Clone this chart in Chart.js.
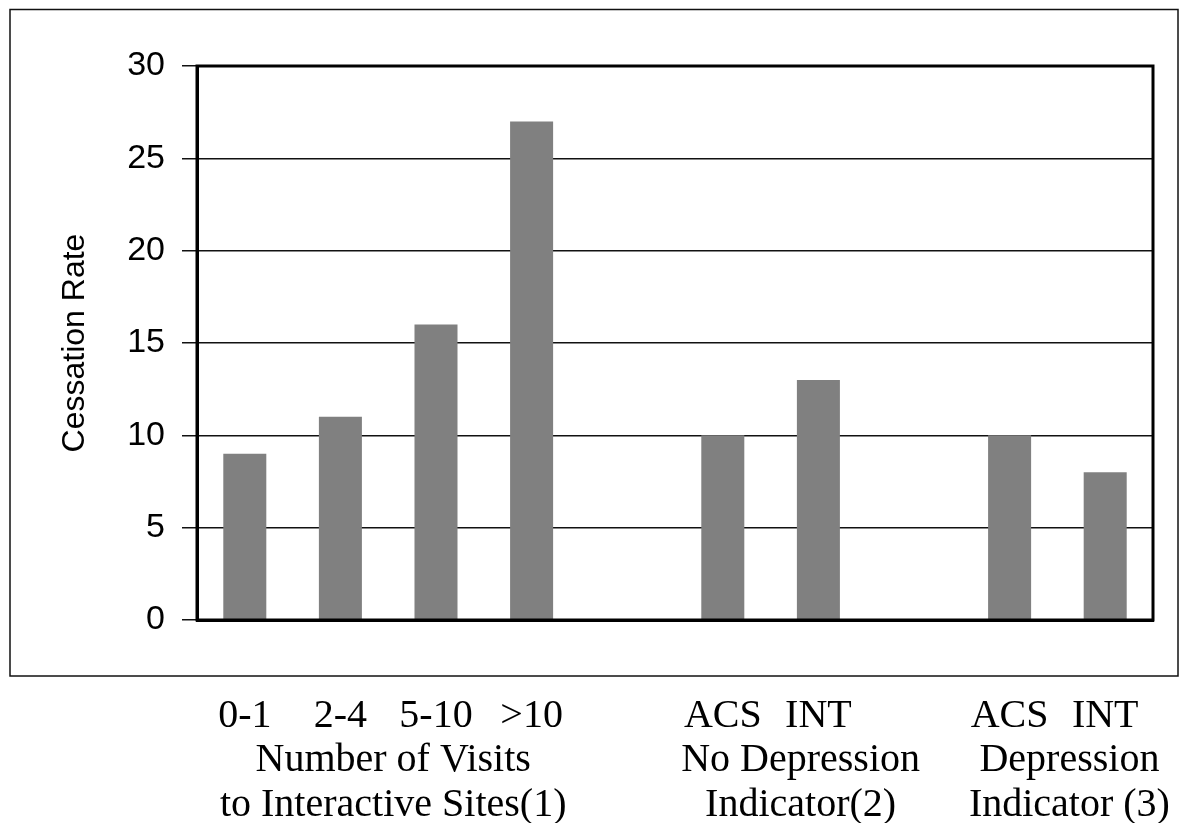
<!DOCTYPE html>
<html>
<head>
<meta charset="utf-8">
<script src="https://cdn.jsdelivr.net/npm/chart.js@4.4.1/dist/chart.umd.min.js"></script>
<style>
  html, body { margin: 0; padding: 0; background: #fff; }
  #wrap { width: 1180px; height: 823px; position: relative; }
</style>
</head>
<body>
<div id="wrap"><canvas id="grafico"></canvas></div>
<script>
// dados
const categorias = ["0-1", "2-4", "5-10", ">10", "", "ACS", "INT", "", "ACS", "INT"];
const taxas = [9, 11, 16, 27, null, 10, 13, null, 10, 8];
const ticksY = [0, 5, 10, 15, 20, 25, 30];
const grupos = [
    { de: 0, ate: 3, linhas: ["Number of Visits", "to Interactive Sites(1)"] },
    { de: 5, ate: 6, linhas: ["No Depression", "Indicator(2)"] },
    { de: 8, ate: 9, linhas: ["Depression", "Indicator (3)"] }
];

const serif = "'Liberation Serif', 'Times New Roman', serif";
const sans = "'Liberation Sans', Arial, sans-serif";

// moldura externa, borda do gráfico e os nomes dos grupos
const molduraPlugin = {
    id: 'moldura',
    afterDraw(chart) {
        const ctx = chart.ctx;
        const a = chart.chartArea;
        ctx.save();
        ctx.strokeStyle = '#111';
        ctx.lineWidth = 1.5;
        ctx.strokeRect(10, 9.5, 1168, 666.5);
        ctx.lineWidth = 3;
        ctx.strokeStyle = '#000';
        ctx.strokeRect(a.left, a.top, a.right - a.left, a.bottom - a.top);

        const x = chart.scales.x;
        const ajuste = [5, 30, 12];
        ctx.fillStyle = '#000';
        ctx.font = "40px " + serif;
        ctx.textAlign = 'center';
        ctx.textBaseline = 'middle';
        grupos.forEach((g, i) => {
            const meio = (x.getPixelForValue(g.de) + x.getPixelForValue(g.ate)) / 2 + ajuste[i];
            g.linhas.forEach((txt, j) => ctx.fillText(txt, meio, 760 + j * 45));
        });
        ctx.restore();
    }
};

const ctx = document.getElementById('grafico').getContext('2d');
new Chart(ctx, {
    type: 'bar',
    data: {
        labels: categorias,
        datasets: [{
            data: taxas,
            backgroundColor: '#808080',
            borderWidth: 0,
            barPercentage: 0.45,
            categoryPercentage: 1
        }]
    },
    options: {
        responsive: true,
        maintainAspectRatio: false,
        animation: false,
        layout: { padding: { top: 66, right: 27, left: 0, bottom: 0 } },
        plugins: { legend: { display: false }, tooltip: { enabled: false } },
        scales: {
            x: {
                grid: { display: false, drawTicks: false },
                border: { display: true, color: '#000', width: 3 },
                ticks: { color: '#000', font: { family: serif, size: 40 }, padding: 72, maxRotation: 0, autoSkip: false },
                afterFit: (s) => { s.height = 823 - 620; s.paddingLeft = 0; s.paddingRight = 0; }
            },
            y: {
                min: 0,
                max: 30,
                afterBuildTicks: (s) => { s.ticks = ticksY.map(v => ({ value: v })); },
                grid: { color: '#111', lineWidth: 1.5, tickLength: 15, drawTicks: true },
                border: { display: true, color: '#000', width: 3 },
                ticks: { color: '#000', font: { family: sans, size: 34 }, padding: 17 },
                title: {
                    display: true,
                    text: 'Cessation Rate',
                    color: '#000',
                    font: { family: sans, size: 32 },
                    padding: { top: 56, bottom: 0 }
                },
                afterFit: (s) => { s.width = 197; }
            }
        }
    },
    plugins: [molduraPlugin]
});
</script>
</body>
</html>
